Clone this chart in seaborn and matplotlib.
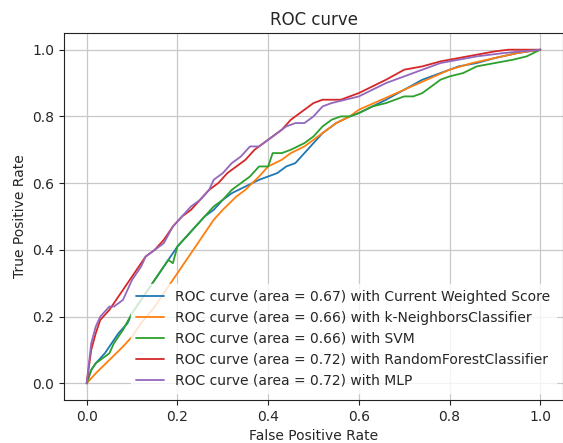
import matplotlib
matplotlib.use("Agg")
import matplotlib.pyplot as plt
import seaborn as sns
import pandas as pd

# ROC points (fpr, tpr)
cws_fpr = [0.0, 0.01, 0.02, 0.04, 0.05, 0.07, 0.09, 0.10, 0.12, 0.14, 0.16, 0.18, 0.20, 0.22, 0.24, 0.26,
           0.28, 0.30, 0.32, 0.35, 0.38, 0.40, 0.42, 0.44, 0.46, 0.48, 0.50, 0.52, 0.55, 0.58, 0.60, 0.63,
           0.66, 0.70, 0.74, 0.78, 0.82, 0.86, 0.90, 0.95, 1.0]
cws_tpr = [0.0, 0.04, 0.06, 0.09, 0.11, 0.15, 0.18, 0.21, 0.25, 0.29, 0.33, 0.37, 0.41, 0.44, 0.47, 0.50,
           0.52, 0.55, 0.57, 0.59, 0.61, 0.62, 0.63, 0.65, 0.66, 0.69, 0.72, 0.75, 0.78, 0.80, 0.81, 0.83,
           0.85, 0.88, 0.91, 0.93, 0.95, 0.96, 0.975, 0.99, 1.0]

knn_fpr = [0.0, 0.02, 0.05, 0.08, 0.10, 0.12, 0.15, 0.18, 0.20, 0.23, 0.25, 0.28, 0.30, 0.33, 0.35, 0.38,
           0.40, 0.43, 0.45, 0.48, 0.50, 0.53, 0.55, 0.58, 0.60, 0.65, 0.70, 0.75, 0.80, 0.85, 0.90, 0.95, 1.0]
knn_tpr = [0.0, 0.03, 0.07, 0.11, 0.14, 0.18, 0.23, 0.29, 0.33, 0.39, 0.43, 0.49, 0.52, 0.56, 0.58, 0.62,
           0.65, 0.67, 0.69, 0.71, 0.73, 0.76, 0.78, 0.80, 0.82, 0.85, 0.88, 0.91, 0.94, 0.96, 0.975, 0.99, 1.0]

svm_fpr = [0.0, 0.01, 0.02, 0.04, 0.05, 0.06, 0.08, 0.10, 0.12, 0.14, 0.16, 0.18, 0.19, 0.20, 0.22, 0.24,
           0.26, 0.28, 0.30, 0.32, 0.34, 0.36, 0.38, 0.40, 0.41, 0.43, 0.45, 0.48, 0.50, 0.52, 0.54, 0.56,
           0.58, 0.60, 0.63, 0.66, 0.70, 0.72, 0.74, 0.76, 0.78, 0.80, 0.83, 0.86, 0.90, 0.94, 0.97, 1.0]
svm_tpr = [0.0, 0.04, 0.06, 0.08, 0.09, 0.12, 0.16, 0.21, 0.25, 0.29, 0.33, 0.37, 0.36, 0.41, 0.44, 0.47,
           0.50, 0.53, 0.55, 0.58, 0.60, 0.62, 0.65, 0.65, 0.69, 0.69, 0.70, 0.72, 0.74, 0.77, 0.79, 0.80,
           0.80, 0.81, 0.83, 0.84, 0.86, 0.86, 0.87, 0.89, 0.91, 0.92, 0.93, 0.95, 0.96, 0.97, 0.98, 1.0]

rf_fpr = [0.0, 0.01, 0.02, 0.03, 0.05, 0.07, 0.09, 0.11, 0.13, 0.15, 0.17, 0.19, 0.21, 0.23, 0.25, 0.27,
          0.29, 0.31, 0.33, 0.35, 0.37, 0.39, 0.41, 0.43, 0.45, 0.48, 0.50, 0.52, 0.56, 0.60, 0.63, 0.66,
          0.70, 0.74, 0.78, 0.82, 0.86, 0.90, 0.93, 1.0]
rf_tpr = [0.0, 0.10, 0.15, 0.19, 0.22, 0.26, 0.30, 0.34, 0.38, 0.40, 0.43, 0.47, 0.50, 0.52, 0.55, 0.58,
          0.60, 0.63, 0.65, 0.67, 0.70, 0.72, 0.74, 0.76, 0.79, 0.82, 0.84, 0.85, 0.85, 0.87, 0.89, 0.91,
          0.94, 0.95, 0.965, 0.975, 0.985, 0.995, 1.0, 1.0]

mlp_fpr = [0.0, 0.01, 0.02, 0.03, 0.05, 0.06, 0.08, 0.10, 0.12, 0.13, 0.15, 0.17, 0.19, 0.21, 0.23, 0.25,
           0.27, 0.28, 0.30, 0.32, 0.34, 0.36, 0.38, 0.40, 0.42, 0.44, 0.46, 0.48, 0.50, 0.52, 0.54, 0.57,
           0.60, 0.63, 0.66, 0.70, 0.74, 0.78, 0.82, 0.86, 0.92, 1.0]
mlp_tpr = [0.0, 0.12, 0.17, 0.20, 0.23, 0.23, 0.25, 0.31, 0.35, 0.38, 0.40, 0.42, 0.47, 0.50, 0.53, 0.55,
           0.58, 0.61, 0.63, 0.66, 0.68, 0.71, 0.71, 0.73, 0.75, 0.77, 0.78, 0.78, 0.80, 0.83, 0.84, 0.85,
           0.86, 0.88, 0.90, 0.92, 0.94, 0.96, 0.97, 0.98, 0.99, 1.0]

model_names = ["Current Weighted Score", "k-NeighborsClassifier", "SVM", "RandomForestClassifier", "MLP"]
areas = [0.67, 0.66, 0.66, 0.72, 0.72]
colors = ["#1f77b4", "#ff7f0e", "#2ca02c", "#d62728", "#9467bd"]

curves = [(cws_fpr, cws_tpr), (knn_fpr, knn_tpr), (svm_fpr, svm_tpr), (rf_fpr, rf_tpr), (mlp_fpr, mlp_tpr)]

sns.set_style("ticks", {"axes.grid": True, "grid.color": "#c8c8c8", "axes.edgecolor": "#222222"})
plt.rcParams["font.family"] = ["DejaVu Sans"]

fig = plt.figure(figsize=(5.63, 4.43), dpi=100)
ax = fig.add_axes([64 / 563, 43 / 443, 499 / 563, 367 / 443])

for (fpr, tpr), name, area, c in zip(curves, model_names, areas, colors):
    df = pd.DataFrame({"fpr": fpr, "tpr": tpr})
    sns.lineplot(data=df, x="fpr", y="tpr", ax=ax, color=c, lw=1.3, estimator=None, sort=False,
                 label="ROC curve (area = %0.2f) with %s" % (area, name))

ax.set_xlim(-0.05, 1.05)
ax.set_ylim(-0.05, 1.05)
ax.set_xticks([0.0, 0.2, 0.4, 0.6, 0.8, 1.0])
ax.set_yticks([0.0, 0.2, 0.4, 0.6, 0.8, 1.0])
ax.tick_params(labelsize=10, length=3.5, color="#222222")
ax.set_xlabel("False Positive Rate", fontsize=10)
ax.set_ylabel("True Positive Rate", fontsize=10)
ax.set_title("ROC curve", fontsize=12)
ax.grid(True, color="#c8c8c8", lw=0.9)
ax.legend(loc="lower right", fontsize=10, frameon=True, edgecolor="white", framealpha=0.8,
          borderaxespad=0.5, handlelength=2.0)

fig.savefig("out.png", dpi=100)
